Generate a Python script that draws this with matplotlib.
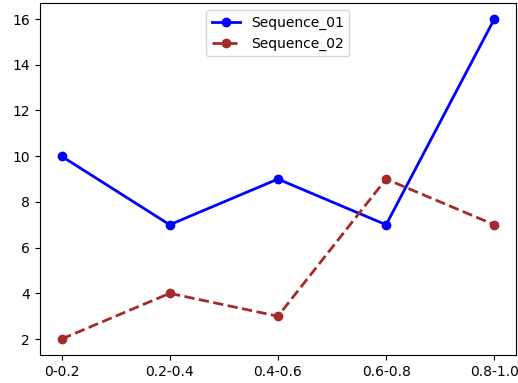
import matplotlib
matplotlib.use('Agg')
import matplotlib.pyplot as plt

# data
categories = ['0-0.2', '0.2-0.4', '0.4-0.6', '0.6-0.8', '0.8-1.0']
sequence_01 = [10, 7, 9, 7, 16]
sequence_02 = [2, 4, 3, 9, 7]

fig = plt.figure(figsize=(5.18, 3.83), dpi=100)
ax = fig.add_subplot(1, 1, 1)
fig.subplots_adjust(left=0.077, right=0.996, top=0.992, bottom=0.073)

ax.plot(categories, sequence_01, color='blue', marker='o', linewidth=2, label='Sequence_01')
ax.plot(categories, sequence_02, color='brown', marker='o', linewidth=2, linestyle='--', label='Sequence_02')

ax.set_yticks([2, 4, 6, 8, 10, 12, 14, 16])
ax.legend(loc='upper center')

fig.savefig('out.png', dpi=100)
